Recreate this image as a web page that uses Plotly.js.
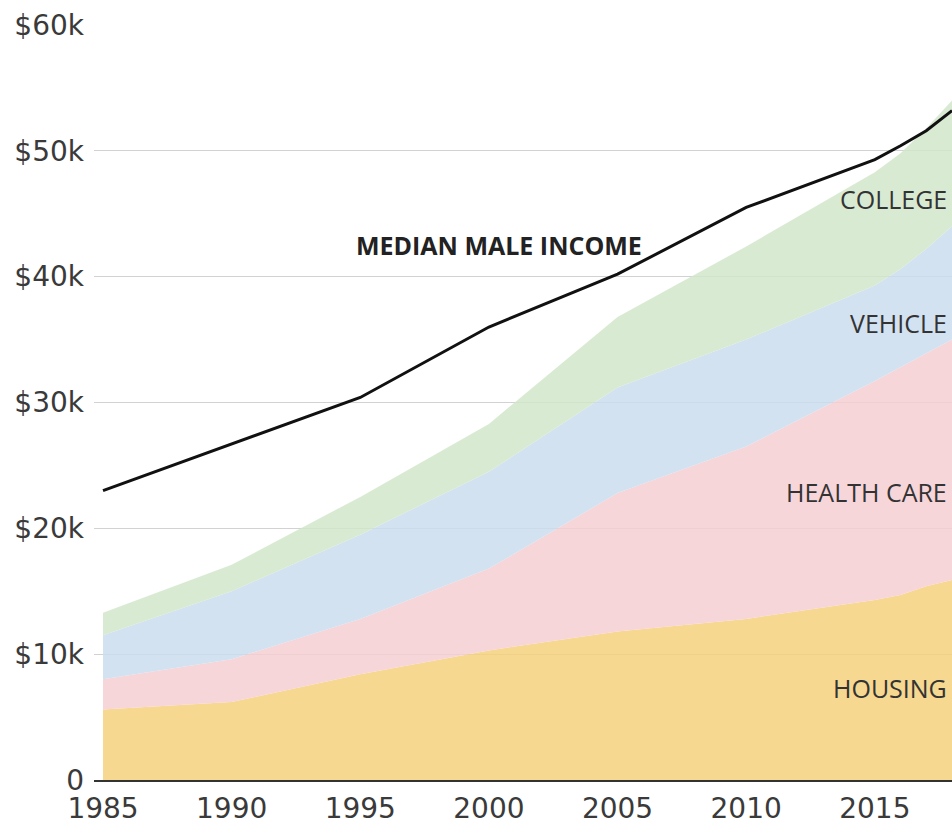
<!DOCTYPE html>
<html>
<head>
<meta charset="utf-8">
<script src="https://cdn.plot.ly/plotly-3.0.1.min.js"></script>
<style>html,body{margin:0;padding:0;background:#fff;}#chart{width:952px;height:825px;}</style>
</head>
<body>
<div id="chart"></div>
<script>
// Data (US dollars)
var years = [1985, 1990, 1995, 2000, 2005, 2010, 2015, 2016, 2017, 2018];
var housing = [5600, 6200, 8400, 10300, 11800, 12800, 14300, 14700, 15400, 15900];
var healthCare = [2400, 3400, 4400, 6500, 11000, 13700, 17400, 18100, 18500, 19100];
var vehicle = [3500, 5400, 6700, 7700, 8400, 8500, 7600, 7800, 8300, 9000];
var college = [1800, 2100, 3000, 3800, 5600, 7400, 9000, 9200, 9600, 10000];
var medianMaleIncome = [23000, 26700, 30400, 36000, 40200, 45500, 49300, 50400, 51600, 53200];

var xTickVals = [1985, 1990, 1995, 2000, 2005, 2010, 2015];
var yTickVals = [0, 10000, 20000, 30000, 40000, 50000, 60000];
var yTickText = ['0', '$10k', '$20k', '$30k', '$40k', '$50k', '$60k'];

var seriesNames = ['HOUSING', 'HEALTH CARE', 'VEHICLE', 'COLLEGE'];
var seriesValues = [housing, healthCare, vehicle, college];
var seriesColors = ['rgba(244,209,124,0.85)', 'rgba(246,207,211,0.85)', 'rgba(203,221,239,0.85)', 'rgba(210,230,203,0.85)'];

var traces = seriesNames.map(function (name, i) {
  return {
    x: years, y: seriesValues[i], name: name, type: 'scatter', mode: 'lines',
    stackgroup: 'costs', line: {width: 0, color: seriesColors[i]},
    fillcolor: seriesColors[i], hoverinfo: 'skip'
  };
});
traces.push({
  x: years, y: medianMaleIncome, name: 'MEDIAN MALE INCOME', type: 'scatter', mode: 'lines',
  line: {color: '#111', width: 3}, hoverinfo: 'skip'
});

var fam = 'Open Sans, Liberation Sans, Arial, sans-serif';
var tickFont = {family: 'DejaVu Sans, Liberation Sans, sans-serif', size: 28, color: '#3a3a3a'};
var labelFont = {family: fam, size: 25, color: '#333'};

var layout = {
  width: 952, height: 825,
  margin: {l: 94, r: 0, t: 25, b: 45},
  paper_bgcolor: '#fff', plot_bgcolor: '#fff',
  showlegend: false,
  xaxis: {
    range: [1984.65, 2018], tickvals: xTickVals, ticktext: xTickVals.map(String),
    showgrid: false, zeroline: false, showline: true, linecolor: '#333', linewidth: 1.5,
    ticks: '', ticklabelstandoff: 3, tickfont: tickFont, fixedrange: true
  },
  yaxis: {
    range: [0, 60000], tickvals: yTickVals, ticktext: yTickText,
    showgrid: true, gridcolor: '#d2d2d2', gridwidth: 1, zeroline: false, showline: false,
    ticks: '', ticklabelstandoff: 9, tickfont: tickFont, fixedrange: true
  },
  annotations: [
    {x: 2000.4, y: 42500, xref: 'x', yref: 'y', text: 'MEDIAN MALE INCOME', showarrow: false,
     font: {family: fam, size: 25, color: '#222', weight: 'bold'}},
    {x: 2017.9, y: 46200, xref: 'x', yref: 'y', text: 'COLLEGE', xanchor: 'right', showarrow: false, font: labelFont},
    {x: 2017.9, y: 36300, xref: 'x', yref: 'y', text: 'VEHICLE', xanchor: 'right', showarrow: false, font: labelFont},
    {x: 2017.9, y: 22900, xref: 'x', yref: 'y', text: 'HEALTH CARE', xanchor: 'right', showarrow: false, font: labelFont},
    {x: 2017.9, y: 7300, xref: 'x', yref: 'y', text: 'HOUSING', xanchor: 'right', showarrow: false, font: labelFont}
  ]
};

Plotly.newPlot('chart', traces, layout, {displayModeBar: false, staticPlot: true});
</script>
</body>
</html>
